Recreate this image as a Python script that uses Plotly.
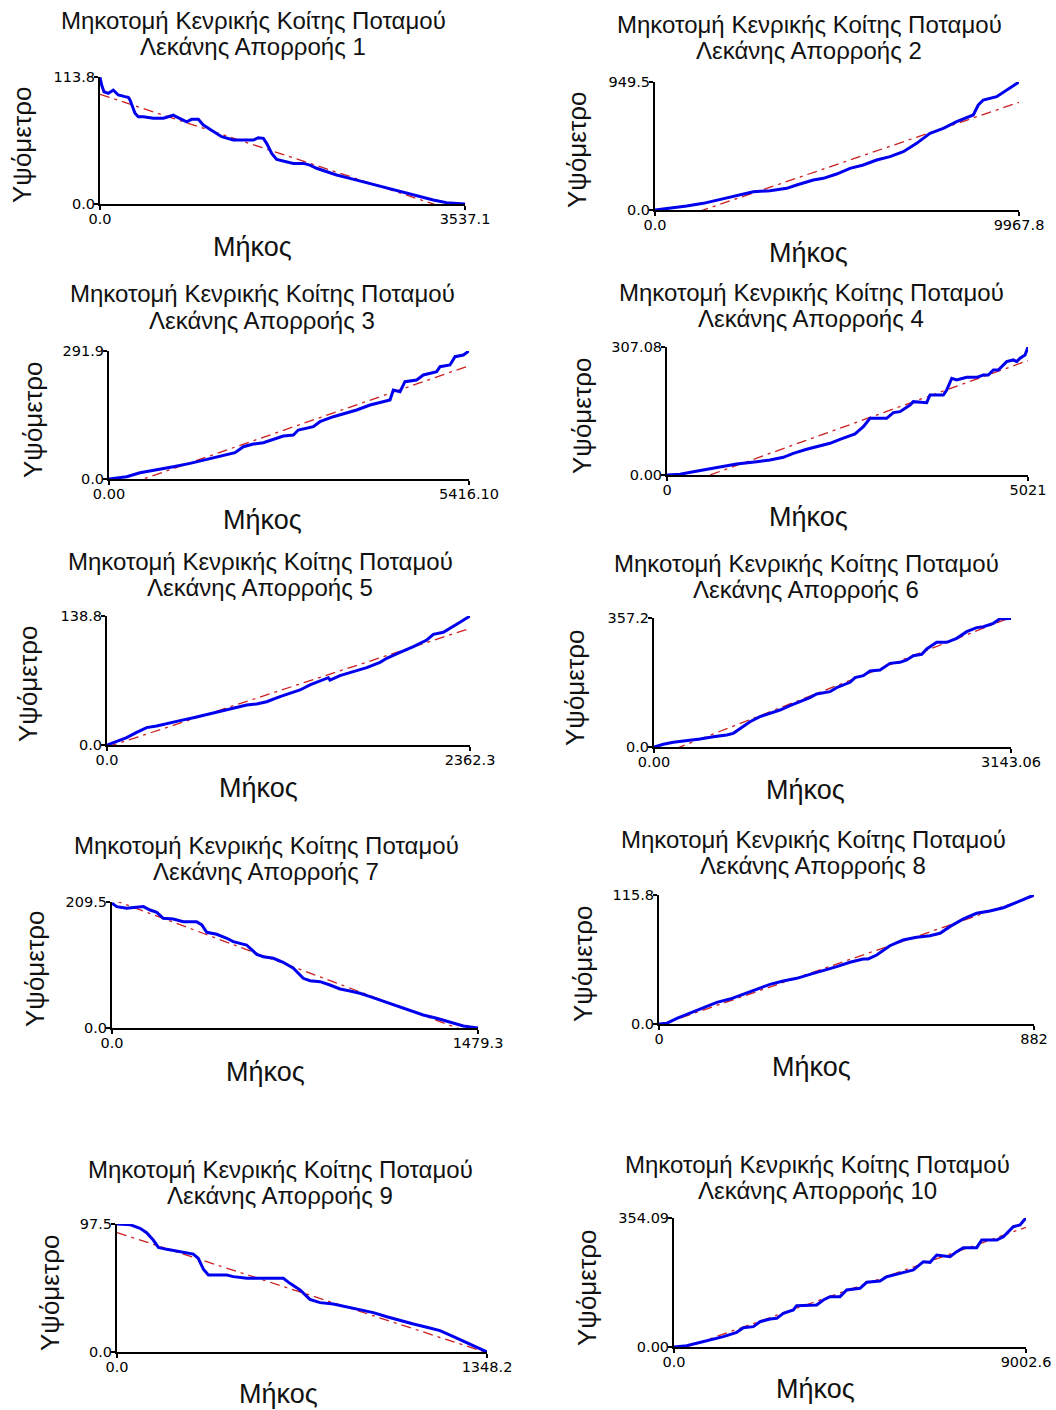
import plotly.graph_objects as go

# ---------------- DATA ----------------
basin_title = "Μηκοτομή Κενρικής Κοίτης Ποταμού"
basin_names = ["Λεκάνης Απορροής 1", "Λεκάνης Απορροής 2", "Λεκάνης Απορροής 3",
               "Λεκάνης Απορροής 4", "Λεκάνης Απορροής 5", "Λεκάνης Απορροής 6",
               "Λεκάνης Απορροής 7", "Λεκάνης Απορροής 8", "Λεκάνης Απορροής 9",
               "Λεκάνης Απορροής 10"]
y_label = "Υψόμετρο"
x_label = "Μήκος"

x_max = [3537.1, 9967.8, 5416.10, 5021, 2362.3, 3143.06, 1479.3, 882, 1348.2, 9002.6]
y_max = [113.8, 949.5, 291.9, 307.08, 138.8, 357.2, 209.5, 115.8, 97.5, 354.09]
x_tick_labels = [["0.0", "3537.1"], ["0.0", "9967.8"], ["0.00", "5416.10"], ["0", "5021"],
                 ["0.0", "2362.3"], ["0.00", "3143.06"], ["0.0", "1479.3"], ["0", "882"],
                 ["0.0", "1348.2"], ["0.0", "9002.6"]]
y_tick_labels = [["0.0", "113.8"], ["0.0", "949.5"], ["0.0", "291.9"], ["0.00", "307.08"],
                 ["0.0", "138.8"], ["0.0", "357.2"], ["0.0", "209.5"], ["0.0", "115.8"],
                 ["0.0", "97.5"], ["0.00", "354.09"]]

dist_1 = [0, 16, 39, 81, 129, 177, 242, 274, 291, 339, 371, 420, 517, 614, 662, 711, 727, 775, 840, 888,
          953, 1001, 1098, 1179, 1292, 1389, 1486, 1534, 1583, 1615, 1664, 1712, 1793, 1873, 1970, 2035,
          2099, 2196, 2293, 2422, 2584, 2745, 2907, 3068, 3230, 3359, 3537.1]
elev_1 = [113.5, 106.6, 100.6, 99.2, 102.1, 97.7, 96.2, 95.6, 93.2, 81.3, 78.2, 78.2, 76.8, 76.8, 78.2,
          79.7, 78.8, 76.8, 73.7, 75.9, 75.9, 70.8, 64.8, 60.3, 57.3, 57.3, 57.3, 59.4, 58.8, 54.4, 45.4,
          40.0, 38.5, 36.4, 36.4, 34.9, 32.0, 29.0, 26.0, 23.0, 19.1, 15.5, 11.0, 7.2, 3.6, 1.2, 0.0]

dist_2 = [0, 411, 867, 1323, 1780, 2236, 2692, 3149, 3605, 3879, 4335, 4609, 4974, 5339, 5704, 6070,
          6435, 6800, 7165, 7530, 7895, 8260, 8625, 8716, 8853, 8990, 9355, 9629, 9967.8]
elev_2 = [0, 12.4, 29.7, 49.4, 79.1, 103.9, 135.9, 143.3, 160.6, 185.5, 222.5, 234.9, 267, 309, 334,
          371, 395.6, 432.7, 494.5, 568.7, 605.8, 655, 692, 704.7, 778.9, 816, 840.6, 890, 949.5]

dist_3 = [0, 266, 466, 717, 968, 1219, 1469, 1670, 1896, 2021, 2171, 2322, 2472, 2623, 2773, 2848,
          3074, 3174, 3375, 3576, 3726, 3927, 4127, 4228, 4277, 4378, 4453, 4629, 4729, 4930, 4980,
          5130, 5206, 5331, 5416.1]
elev_3 = [0, 5.3, 14.4, 20.5, 28.1, 35.7, 44.8, 50.9, 60, 73.7, 79.8, 82.8, 91.2, 98, 100.3, 111.7,
          119.3, 130.7, 142.1, 151.2, 157.4, 168.8, 176.4, 180.2, 203, 199.2, 222, 225.8, 237.2, 244.8,
          256.2, 260, 279, 282.8, 291.9]

dist_4 = [0, 181, 366, 552, 737, 969, 1247, 1433, 1618, 1757, 1943, 2128, 2267, 2406, 2545, 2615,
          2731, 2824, 3055, 3148, 3241, 3380, 3426, 3612, 3658, 3844, 3890, 3960, 4029, 4168, 4307,
          4400, 4469, 4539, 4608, 4724, 4817, 4864, 4910, 4980, 5021]
elev_4 = [0, 1.6, 8.0, 13.6, 20.0, 26.4, 32.0, 36.0, 42.4, 52.0, 61.6, 70.4, 76.0, 85.6, 94.4, 98.4,
          116, 136, 136, 149.6, 152, 168, 176, 173.6, 192, 192, 204, 232, 228, 234.4, 234.4, 240, 240,
          252, 252, 272, 276, 272, 280, 288, 307.08]

dist_5 = [0, 63, 128, 193, 258, 323, 388, 475, 562, 649, 735, 822, 909, 974, 1039, 1126, 1191, 1256,
          1321, 1386, 1440, 1451, 1516, 1603, 1690, 1777, 1820, 1907, 1994, 2081, 2124, 2189, 2254,
          2297, 2362.3]
elev_5 = [0, 3.6, 7.9, 13.6, 18.7, 20.4, 22.6, 26.2, 29.4, 33, 36.6, 40.2, 43, 44.1, 46.6, 52, 55.6,
          59.2, 64.6, 68.9, 72.4, 69.9, 74.6, 78.9, 83.2, 89, 93.3, 99.7, 105.8, 113, 119.1, 121.3,
          127.3, 132, 138.8]

dist_6 = [0, 82, 170, 288, 405, 522, 640, 698, 757, 845, 933, 1021, 1109, 1197, 1285, 1373, 1432,
          1549, 1608, 1726, 1770, 1843, 1902, 1990, 2078, 2166, 2225, 2283, 2357, 2401, 2489, 2577,
          2665, 2753, 2841, 2900, 2988, 3046, 3143.06]
elev_6 = [0, 7.4, 12.9, 16.6, 22.2, 28.6, 33.2, 37.8, 51.7, 70.1, 84, 93.2, 102.4, 114.4, 125.5,
          136.6, 146.8, 153.2, 164.3, 179.1, 192, 197.5, 210.4, 213.2, 231.6, 234.4, 240.9, 252.9,
          256.6, 271.4, 289.9, 289.9, 300.9, 319.4, 330.5, 333.2, 342.4, 355.0, 356.0]

dist_7 = [0, 19, 59, 86, 100, 127, 154, 181, 207, 248, 288, 342, 363, 383, 423, 464, 490, 517, 544,
          585, 612, 652, 692, 733, 773, 800, 841, 881, 922, 962, 1002, 1043, 1083, 1124, 1164, 1204,
          1258, 1312, 1366, 1420, 1479.3]
elev_7 = [207.4, 201.8, 199, 200.1, 201.8, 201.8, 196.2, 192.4, 182.4, 181.3, 176.8, 176.8, 171.3,
          159.1, 155.8, 149.2, 143.6, 140.8, 138, 122.5, 118.6, 115.9, 109.2, 99.3, 82.6, 78.7, 77,
          71.5, 64.9, 61.5, 57.7, 52.1, 46.6, 41, 35.5, 29.9, 21.6, 16.1, 9.4, 3.3, 0]

dist_8 = [0, 18, 42, 73, 104, 136, 167, 198, 230, 261, 292, 324, 355, 386, 418, 449, 480, 492, 512,
          543, 574, 606, 637, 661, 684, 716, 747, 778, 810, 841, 865, 882]
elev_8 = [0, 0.6, 5.1, 9.6, 14.7, 19.4, 22.4, 26.6, 31.4, 35.6, 38.6, 41, 44.6, 47.9, 51.5, 55.4,
          58.4, 58.4, 61.9, 70.3, 75.4, 77.8, 79.3, 81.4, 87.4, 94.3, 99.4, 101.4, 104.4, 109.2, 112.8,
          115.8]

dist_9 = [0, 47, 84, 108, 132, 151, 181, 230, 278, 296, 315, 333, 400, 424, 473, 521, 570, 606, 630,
          667, 703, 740, 788, 837, 885, 934, 983, 1031, 1080, 1129, 1177, 1226, 1274, 1323, 1348.2]
elev_9 = [97.5, 97.0, 94.2, 90.9, 85.3, 79.7, 78.2, 76.4, 74.6, 71.4, 63, 58.7, 58.7, 57.4, 56.1,
          56.1, 56.1, 56.1, 52.3, 47.2, 40.1, 37.6, 36.6, 34.5, 32.5, 30, 26.9, 23.9, 21.3, 18.8, 16.3,
          11.7, 7.1, 2, 0]

dist_10 = [0, 324, 580, 921, 1262, 1603, 1774, 2029, 2200, 2456, 2626, 2797, 3053, 3138, 3394, 3649,
           3820, 3990, 4246, 4417, 4758, 4886, 4928, 5269, 5440, 5781, 6122, 6377, 6548, 6719, 7060,
           7230, 7401, 7742, 7870, 8254, 8424, 8679, 8850, 8979, 9002.6]
elev_10 = [0, 3.7, 10.1, 19.2, 28.4, 40.3, 53, 55.8, 69.5, 76.9, 78.7, 92.4, 101.6, 113.5, 113.5,
           115.3, 129, 138.2, 138.2, 156.5, 161.1, 172, 177.6, 181.2, 193, 202.2, 211.4, 234.2, 232.4,
           252.5, 247.9, 261.7, 272.6, 272.6, 293.7, 293.7, 302.8, 330.2, 334.9, 351.4, 354.09]

# linear trend line (elevation at distance 0 and at max distance)
fit_start = [98.3, -122.2, -27.2, -37.1, -2.2, -28.2, 213.9, -1.2, 91.0, -12.3]
fit_end = [-9.3, 798.7, 258.2, 274.6, 125.5, 359.0, -13.0, 114.9, -0.5, 328.5]

dists = [dist_1, dist_2, dist_3, dist_4, dist_5, dist_6, dist_7, dist_8, dist_9, dist_10]
elevs = [elev_1, elev_2, elev_3, elev_4, elev_5, elev_6, elev_7, elev_8, elev_9, elev_10]

# ---------------- LAYOUT (page pixels) ----------------
OFF = 0                    # body margin is removed by the post script
W, H = 1056, 1410
# plot area: left, right, top, bottom
boxes = [(100, 465, 77, 204), (655, 1019, 82, 210),
         (109, 469, 351, 479), (667, 1028, 347, 475),
         (107, 470, 616, 745), (654, 1011, 618, 747),
         (112, 478, 902, 1028), (659, 1034, 895, 1024),
         (117, 487, 1224, 1352), (674, 1026, 1218, 1347)]
# title: centre x, centre y of the two-line block
title_pos = [(253, 33.5), (809, 37.5), (262, 307), (811, 305.5), (260, 574),
             (806, 576.5), (266, 858.5), (813, 852.5), (280, 1182), (817, 1177)]
TITLE_GAP = 13
ylab_pos = [(22, 145), (577, 150), (33, 420), (582, 416), (28, 684),
            (575, 688), (35, 969), (583, 964), (50, 1293), (587, 1288)]
xlab_pos = [(252, 247), (808, 253), (262, 520), (808, 517), (258, 788),
            (805, 790), (265, 1072), (811, 1067), (278, 1394), (815, 1389)]


def fx(px):
    return (px - OFF) / W


def fy(py):
    return 1 - (py - OFF) / H


TXT_FONT = "Liberation Sans, Arial, sans-serif"
TICK_FONT = "DejaVu Sans, sans-serif"
TXT_COLOR = "#111"

fig = go.Figure()
layout = dict(width=W, height=H, margin=dict(l=0, r=0, t=0, b=0, autoexpand=False),
              paper_bgcolor="white", plot_bgcolor="white", showlegend=False)
annotations = []


def add_text(text, px, py, size, angle=0):
    annotations.append(dict(text=text, x=fx(px), y=fy(py), xref="paper", yref="paper",
                            xanchor="center", yanchor="middle", textangle=angle, showarrow=False,
                            font=dict(family=TXT_FONT, size=size, color=TXT_COLOR)))


for i in range(10):
    sfx = "" if i == 0 else str(i + 1)
    xa, ya = "x" + sfx, "y" + sfx
    fig.add_trace(go.Scatter(x=[0, x_max[i]], y=[fit_start[i], fit_end[i]], mode="lines",
                             line=dict(color="#cc1f1f", width=1.3, dash="10px,5px,3px,5px"),
                             xaxis=xa, yaxis=ya, hoverinfo="skip"))
    fig.add_trace(go.Scatter(x=dists[i], y=elevs[i], mode="lines",
                             line=dict(color="#0000ee", width=3),
                             xaxis=xa, yaxis=ya))
    l, r, t, b = boxes[i]
    common = dict(showline=True, linecolor="black", linewidth=2, ticks="outside", ticklen=4,
                  tickwidth=1.5, tickcolor="black", showgrid=False, zeroline=False,
                  automargin=False,
                  tickfont=dict(family=TICK_FONT, size=14.5, color="black"), fixedrange=True)
    layout["xaxis" + sfx] = dict(domain=[fx(l), fx(r)], anchor=ya, range=[0, x_max[i]],
                                 tickmode="array", tickvals=[0, x_max[i]],
                                 ticktext=x_tick_labels[i], ticklabelstandoff=-3, **common)
    layout["yaxis" + sfx] = dict(domain=[fy(b), fy(t)], anchor=xa, range=[0, y_max[i]],
                                 tickmode="array", tickvals=[0, y_max[i]],
                                 ticktext=y_tick_labels[i], ticklabelstandoff=-4, **common)
    tx, tm = title_pos[i]
    add_text(basin_title, tx, tm - TITLE_GAP, 24)
    add_text(basin_names[i], tx, tm + TITLE_GAP, 24)
    lx, ly = ylab_pos[i]
    add_text(y_label, lx, ly, 26, angle=-90)
    mx, my = xlab_pos[i]
    add_text(x_label, mx, my, 27)

layout["annotations"] = annotations
fig.update_layout(**layout)

fig.write_html("out.html", config={"displayModeBar": False, "responsive": False},
               post_script="document.documentElement.style.margin='0';"
                           "document.body.style.margin='0';"
                           "document.body.style.overflow='hidden';")
